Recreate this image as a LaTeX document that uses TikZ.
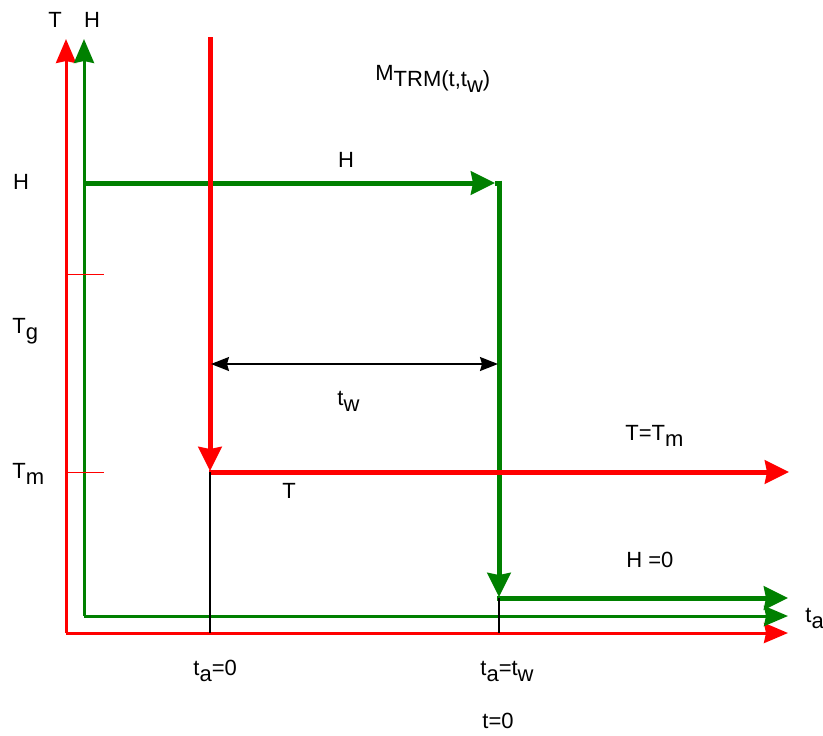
\documentclass[tikz,border=0pt]{standalone}
\usepackage{fontspec}
\setmainfont{Liberation Sans}
\usetikzlibrary{arrows.meta}
\definecolor{PlotRed}{RGB}{255,0,0}
\definecolor{PlotGreen}{RGB}{0,128,0}
\newcommand{\lo}[1]{\raisebox{-0.55ex}{#1}}

\begin{document}
\begin{tikzpicture}[
    x=0.5pt, y=-0.5pt,
    font=\fontsize{11}{13}\selectfont,
    axis/.style={line width=1.5pt, -{Stealth[length=12pt, width=10pt, inset=1pt]}},
    flow/.style={line width=2.5pt, -{Stealth[length=12pt, width=11.5pt, inset=1pt]}},
    bar/.style={line width=2.5pt},
    tick/.style={PlotRed, line width=0.5pt},
    guide/.style={black, line width=0.75pt},
    span/.style={black, line width=0.75pt,
        {Stealth[length=9pt, width=7pt, inset=1pt]}-{Stealth[length=9pt, width=7pt, inset=1pt]}},
]
\useasboundingbox (0,0) rectangle (823,735);

% axes
\coordinate (oT) at (66,633);   \coordinate (topT) at (66,39);  \coordinate (endT) at (788,633);
\coordinate (oH) at (84,616);   \coordinate (topH) at (84,39);  \coordinate (endH) at (788,616);
\draw[axis, PlotRed]   (oT) -- (topT);
\draw[axis, PlotRed]   (oT) -- (endT);
\draw[axis, PlotGreen] (oH) -- (topH);
\draw[axis, PlotGreen] (oH) -- (endH);

% ticks on T axis
\coordinate (tg1) at (66,274);  \coordinate (tg2) at (104,274);
\coordinate (tm1) at (66,472);  \coordinate (tm2) at (104,472);
\draw[tick] (tg1) -- (tg2);
\draw[tick] (tm1) -- (tm2);

% field path
\coordinate (hStart) at (84,183);  \coordinate (hTip) at (495,183);
\coordinate (hCorner) at (499,183); \coordinate (hDown) at (499,597);
\coordinate (hLow) at (497,598);   \coordinate (hEnd) at (788,598);
\draw[flow, PlotGreen] (hStart) -- (hTip);
\draw[bar, PlotGreen] (hTip) -- (hCorner);
\draw[flow, PlotGreen] ([yshift=1.25pt]hCorner) -- (hDown);
\draw[flow, PlotGreen] (hLow) -- (hEnd);

% temperature path
\coordinate (tStart) at (210,37);  \coordinate (tTip) at (210,471);
\coordinate (tLow) at (209,472);   \coordinate (tEnd) at (789,472);
\draw[flow, PlotRed] (tStart) -- (tTip);
\draw[flow, PlotRed] (tLow) -- (tEnd);

% guides and waiting time
\coordinate (g1a) at (210,472); \coordinate (g1b) at (210,633);
\coordinate (g2a) at (499,598); \coordinate (g2b) at (499,633);
\draw[guide] (g1a) -- (g1b);
\draw[guide] (g2a) -- (g2b);
\coordinate (wA) at (211,364); \coordinate (wB) at (498,364);
\draw[span] (wA) -- (wB);

% labels
\node[anchor=base] (labT) at (55,27) {T};
\node[anchor=base] (labH) at (92,27) {H};
\node[anchor=base] (labHl) at (21,189) {H};
\node[anchor=base west, inner sep=0pt] (labTg) at (12,333) {T\lo{g}};
\node[anchor=base west, inner sep=0pt] (labTm) at (12,478) {T\lo{m}};
\node[anchor=base west, inner sep=0pt] (labM) at (375,80) {M\lo{TRM(t,t\lo{w})}};
\node[anchor=base] (labHm) at (346,167) {H};
\node[anchor=base west, inner sep=0pt] (labtw) at (337,405) {t\lo{w}};
\node[anchor=base] (labTl) at (289,498) {T};
\node[anchor=base west, inner sep=0pt] (labTTm) at (625,440) {T=T\lo{m}};
\node[anchor=base west, inner sep=0pt] (labH0) at (626,567) {H =0};
\node[anchor=base west, inner sep=0pt] (labta) at (805,622) {t\lo{a}};
\node[anchor=base west, inner sep=0pt] (labta0) at (193,675) {t\lo{a}=0};
\node[anchor=base west, inner sep=0pt] (labtatw) at (480,675) {t\lo{a}=t\lo{w}};
\node[anchor=base west, inner sep=0pt] (labt0) at (482,728) {t=0};
\end{tikzpicture}
\end{document}
